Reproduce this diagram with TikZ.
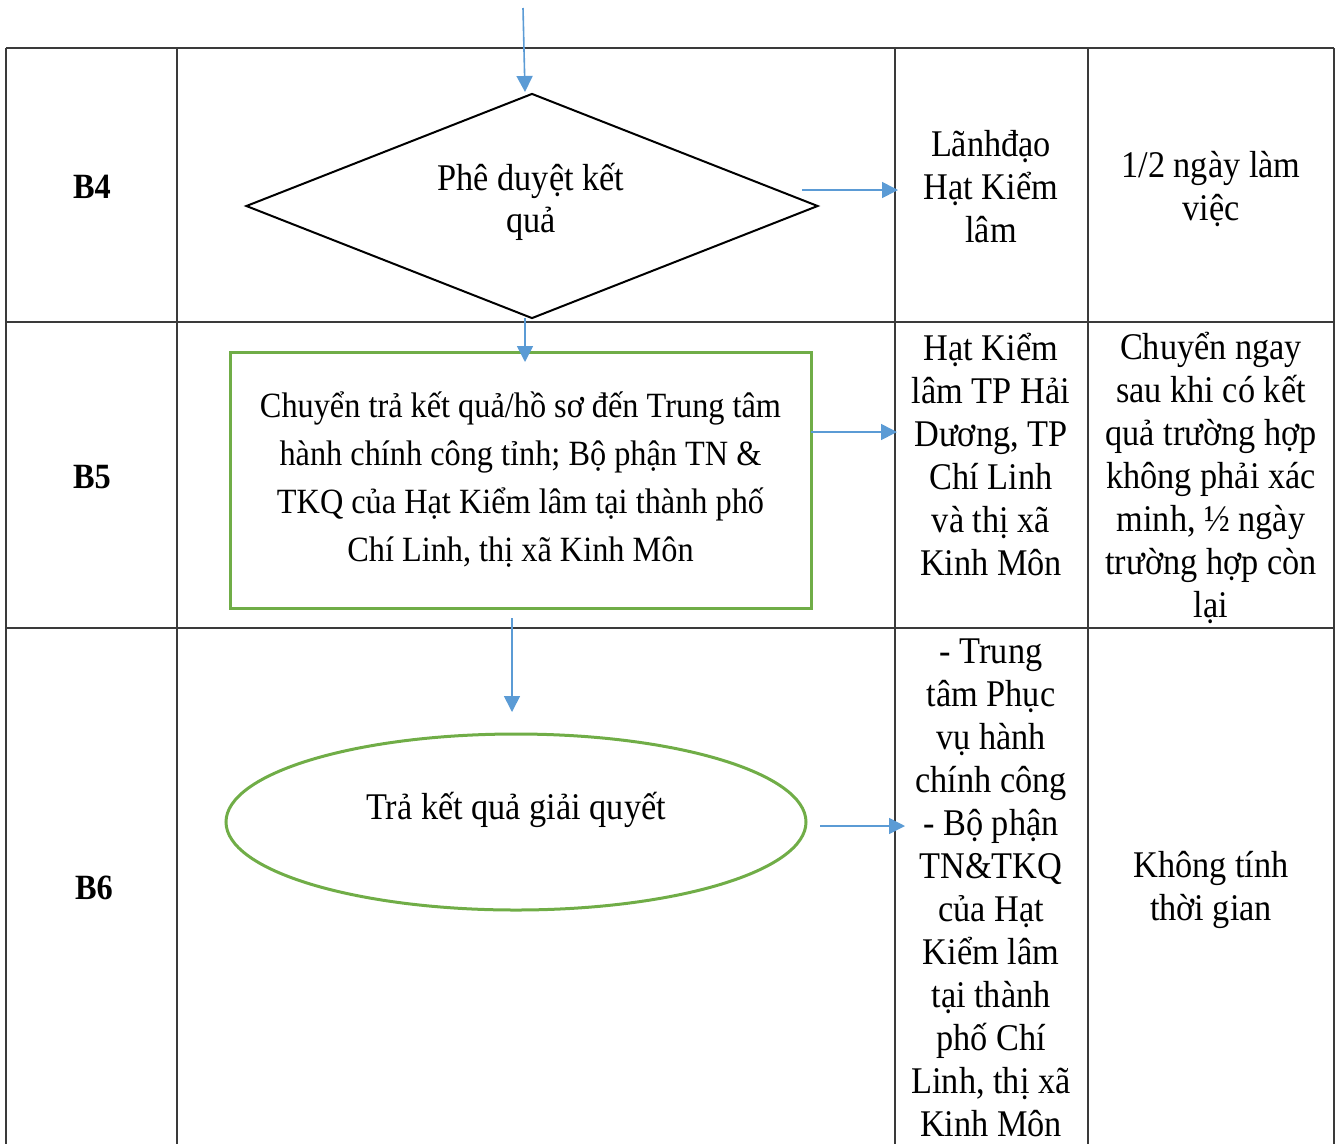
\documentclass[tikz,border=0pt]{standalone}
\usepackage{fontspec}
\setmainfont[FakeStretch=0.91]{Liberation Serif}
\usetikzlibrary{shapes.geometric,arrows.meta}
\definecolor{flowblue}{HTML}{5B9BD5}
\definecolor{flowgreen}{HTML}{70AD47}
\definecolor{gridline}{HTML}{3A3A3A}
\begin{document}
\begin{tikzpicture}[x=1pt,y=-1pt,
  gridrule/.style={draw=gridline,line width=1.5pt},
  flow/.style={draw=flowblue,line width=1.6pt,-{Triangle[length=16pt,width=16pt]}},
  cell/.style={align=center,inner sep=0pt,font=\fontsize{37.7pt}{43pt}\selectfont},
  steplabel/.style={inner sep=0pt,font=\fontsize{35.5pt}{40pt}\selectfont\bfseries},
  decision/.style={diamond,aspect=2.54,draw=black,line width=2pt,inner sep=0pt,
    minimum width=572pt,minimum height=225pt},
  process/.style={rectangle,draw=flowgreen,line width=3pt,inner sep=0pt,
    minimum width=581pt,minimum height=256pt,align=center,
    font=\fontsize{35.5pt}{48pt}\selectfont},
  terminal/.style={ellipse,draw=flowgreen,line width=3pt,inner sep=0pt,
    minimum width=580pt,minimum height=176pt},
  plain/.style={inner sep=0pt,align=center,font=\fontsize{37.7pt}{42pt}\selectfont}]

% page frame
\useasboundingbox (0,0) rectangle (1340,1144);

% table grid (open at the bottom)
\draw[gridrule] (6,48) -- (1334,48);
\draw[gridrule] (6,322) -- (1334,322);
\draw[gridrule] (6,628) -- (1334,628);
\foreach \xx in {6,177,895,1088,1334}
  \draw[gridrule] (\xx,48) -- (\xx,1144);

% step labels
\node[steplabel] (b4) at (92,187) {B4};
\node[steplabel] (b5) at (92,477) {B5};
\node[steplabel] (b6) at (94,888) {B6};

% flow shapes
\node[decision] (approve) at (532,206) {};
\node[plain] (approvetext) at (531,202) {Phê duyệt kết\\quả};
\node[process] (handover) at (520.5,480) {Chuyển trả kết quả/hồ sơ đến Trung tâm\\hành chính công tỉnh; Bộ phận TN \&\\TKQ của Hạt Kiểm lâm tại thành phố\\Chí Linh, thị xã Kinh Môn};
\node[terminal] (deliver) at (516,822) {};
\node[plain] (delivertext) at (516,810) {Trả kết quả giải quyết};

% responsible units
\node[cell] (who4) at (991,187) {Lãnhđạo\\Hạt Kiểm\\lâm};
\node[cell] (who5) at (991,455) {Hạt Kiểm\\lâm TP Hải\\Dương, TP\\Chí Linh\\và thị xã\\Kinh Môn};
\node[cell] (who6) at (991,888) {- Trung\\tâm Phục\\vụ hành\\chính công\\- Bộ phận\\TN\&TKQ\\của Hạt\\Kiểm lâm\\tại thành\\phố Chí\\Linh, thị xã\\Kinh Môn};

% time limits
\node[cell] (time4) at (1211,189) {1/2 ngày làm\\việc};
\node[cell] (time5) at (1211,478) {Chuyển ngay\\sau khi có kết\\quả trường hợp\\không phải xác\\minh, ½ ngày\\trường hợp còn\\lại};
\node[cell] (time6) at (1211,890) {Không tính\\thời gian};

% connector ends
\coordinate (inflow) at (523,8);
\coordinate (approvetop) at (525,92);
\coordinate (approveout) at (802,190);
\coordinate (who4in) at (898,190);
\coordinate (approvebottom) at (525,318);
\coordinate (handovertop) at (525,362);
\coordinate (handoverout) at (811,432);
\coordinate (who5in) at (897,432);
\coordinate (handoverbottom) at (512,618);
\coordinate (delivertop) at (512,712);
\coordinate (deliverout) at (820,826);
\coordinate (who6in) at (905,826);

% connectors
\draw[flow] (inflow) -- (approvetop);
\draw[flow] (approveout) -- (who4in);
\draw[flow] (approvebottom) -- (handovertop);
\draw[flow] (handoverout) -- (who5in);
\draw[flow] (handoverbottom) -- (delivertop);
\draw[flow] (deliverout) -- (who6in);
\end{tikzpicture}
\end{document}
